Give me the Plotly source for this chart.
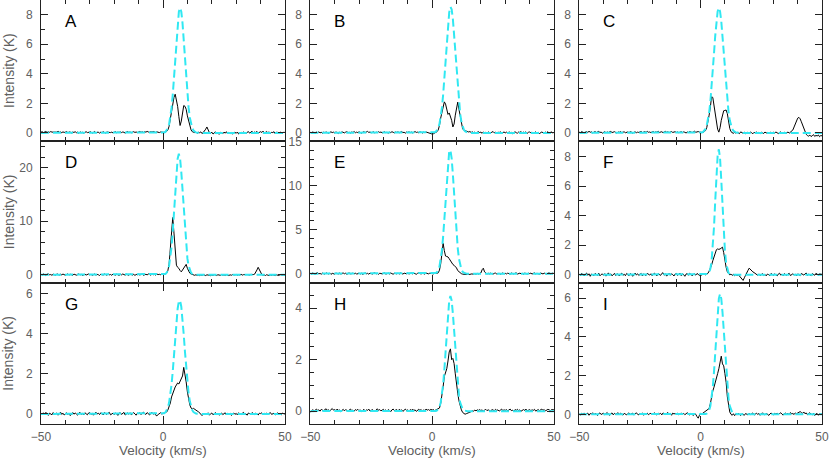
import numpy as np
import plotly.graph_objects as go

# channel grid (km/s) and grid of the fitted profiles
VELOCITY = np.round(np.arange(-50, 50.001, 0.5), 2)
FIT_VELOCITY = [-50.0] + list(np.round(np.arange(0, 16.001, 0.5), 2)) + [50.0]

LETTERS = ["A", "B", "C", "D", "E", "F", "G", "H", "I"]

A_SPEC = [.05,.08,.02,.06,.10,.03,.07,.04,.09,.05,.06,.02,.08,.05,.11,.04,.06,.01,.07,.03,
          .05,.09,.02,.04,.07,-.02,.06,.03,.08,.01,.05,-.03,.07,.02,.04,-.01,.06,.08,.02,.05,
          .03,.07,-.02,.05,.09,.01,.04,.06,-.03,.05,.02,.08,.03,-.01,.06,.04,.07,.02,.05,.00,
          .04,.08,.01,.05,.03,.07,.02,.06,.04,-.02,.05,.09,.03,.06,.01,.05,.08,.03,.06,.02,
          .05,.09,.04,.07,.03,.08,.05,.10,.06,.04,.08,.05,.09,.06,.03,.07,.05,.02,.06,.04,
          .05,.03,.08,.10,.20,.45,.95,1.55,2.05,2.40,2.62,2.20,1.80,1.10,.50,.80,1.45,1.85,1.80,1.60,
          1.15,.75,.40,.20,.08,.05,.02,.06,-.03,.04,.01,.07,-.05,.03,.12,.25,.40,.15,.02,-.04,
          .05,-.08,.02,.07,-.04,.03,-.10,.04,.01,-.06,.05,-.02,.08,-.07,.03,-.04,.06,-.09,.02,.04,
          -.03,.06,-.08,.01,.05,-.05,.07,.00,-.06,.04,.09,-.02,.05,.11,-.04,.07,.02,.10,-.01,.06,
          .08,.03,.12,-.02,.06,.09,.01,.07,-.05,.04,.02,.08,-.06,.05,.03,-.03,.06,.01,-.04,.05,
          .02]
B_SPEC = [.04,.01,.06,.03,-.02,.05,.02,.07,.00,.04,-.03,.05,.02,.06,.01,-.02,.04,.07,.02,.05,
          .00,.06,.03,-.04,.05,.01,.07,.03,.00,.05,.08,.02,.04,-.01,.06,.03,.09,.01,.05,.02,
          .07,.03,-.02,.04,.08,.02,.05,.10,.03,.06,.01,.04,.07,-.01,.05,.02,.08,.03,.06,.00,
          .04,.07,.01,.05,-.03,.06,.02,.08,.04,.00,.06,.03,.07,.01,.05,.09,.02,.04,-.02,.06,
          .03,.07,.02,.05,.00,.06,.09,.03,.05,.01,.07,.04,-.01,.05,.02,.06,.03,-.04,-.06,-.08,
          -.08,-.06,-.03,.02,.08,.20,.50,1.00,1.45,1.85,2.10,1.95,1.55,1.25,1.35,1.15,.85,.40,.60,1.20,
          1.75,2.08,1.60,1.10,.55,.28,.18,.15,.15,.10,.06,.09,.03,.07,.01,.05,-.02,.04,.08,.02,
          .05,-.03,.06,.01,.04,-.05,.07,.02,-.02,.05,.09,.00,.04,-.04,.06,.01,.08,-.02,.03,.06,
          .00,.05,-.03,.07,.02,.04,-.06,.03,.08,.01,-.02,.06,.03,.09,-.01,.05,.02,.07,-.03,.04,
          .06,.01,.05,-.04,.03,.07,.00,.04,-.05,.02,.06,.01,-.03,.05,.02,.08,-.02,.03,.06,.00,
          .03]
C_SPEC = [.06,.02,.09,.04,-.01,.05,.08,.03,.11,.04,.07,.00,.05,.09,.02,.06,.10,.03,.05,-.02,
          .04,.08,.01,.06,.03,.07,.10,.02,.05,.08,.03,-.01,.06,.04,.09,.02,.05,.07,.01,.04,
          .06,.02,.08,.05,-.02,.04,.07,.01,.05,.03,.06,.09,.02,.05,.08,.03,.10,.04,.06,.02,
          .05,.09,.02,.07,.04,.11,.03,.06,.08,.01,.05,.10,.04,.07,.02,.06,.09,.03,.05,.08,
          .03,.06,.01,.05,.08,.02,.07,.04,-.01,.06,.03,.09,.05,.02,.07,.11,.04,.06,.09,.05,
          .04,.08,.02,.10,.15,.35,.70,1.20,1.75,2.45,2.40,1.85,1.35,.80,.25,.05,.35,.85,1.25,1.50,
          1.52,1.55,1.30,.75,.30,.08,.02,-.04,.06,-.02,.05,.01,-.05,.07,.00,-.03,.05,-.06,.02,.04,
          -.03,.05,.01,-.06,.04,.00,.07,-.02,.03,-.05,.05,.02,-.04,.06,-.01,.03,-.07,.02,.05,-.03,
          .04,-.02,.06,.01,-.05,.03,.07,-.03,.02,.05,-.04,.01,.06,-.02,.04,.08,.20,.40,.65,.85,
          1.00,1.05,.95,.75,.50,.25,.05,-.10,-.18,-.22,-.15,-.25,-.19,-.12,-.24,-.17,-.21,-.14,-.26,-.18,
          -.20]
D_SPEC = [.10,-.05,.15,.02,-.12,.08,.20,-.03,.05,-.10,.12,.00,-.08,.18,.04,-.06,.10,-.02,.14,.03,
          -.09,.06,.16,-.04,.09,.01,-.11,.13,.05,-.07,.02,.17,-.03,.08,-.12,.06,.11,-.05,.03,.15,
          -.02,.09,-.10,.04,.14,-.06,.07,.01,-.13,.10,.05,-.04,.16,.02,-.08,.11,-.01,.06,-.09,.13,
          .03,-.07,.12,.05,-.11,.08,-.02,.15,.00,-.06,.10,.04,-.09,.13,.02,-.05,.09,-.12,.07,.01,
          .11,-.04,.06,.14,-.08,.03,.10,-.02,.16,.05,-.07,.12,.01,.08,-.05,.15,.04,.09,.02,.12,
          .10,.05,.15,.30,.80,2.00,4.50,8.00,10.70,7.80,3.50,1.80,1.40,1.20,.80,.55,.90,1.30,1.70,1.95,
          1.20,.60,.30,.15,.05,-.05,-.10,.02,-.12,-.06,-.15,-.03,-.10,.04,-.08,-.14,.00,-.09,-.05,-.16,
          -.04,-.11,.03,-.07,-.13,.01,-.06,-.10,.05,-.08,-.02,-.12,.02,-.05,-.14,.00,-.09,.04,-.07,-.03,
          .06,-.08,.02,-.04,.09,-.06,.03,.07,-.02,.05,.01,-.05,.08,.03,.04,.10,.40,.90,1.40,.90,
          .30,.05,-.10,-.04,-.13,.02,-.08,-.15,-.03,-.11,.01,-.09,-.14,-.02,-.07,-.12,.03,-.06,-.10,-.04,
          -.08]
E_SPEC = [.05,-.04,.08,.01,-.07,.06,.10,-.02,.03,-.06,.07,.00,-.05,.09,.02,-.03,.06,-.08,.04,.01,
          -.05,.07,.02,-.03,.09,-.06,.04,.08,-.01,.05,-.07,.03,.10,-.04,.01,.06,-.02,.08,-.06,.03,
          .07,-.03,.05,-.08,.02,.09,-.01,.04,-.06,.07,.01,-.04,.06,.10,-.02,.03,-.07,.05,.02,-.03,
          .04,.08,-.05,.02,.06,-.03,.09,.00,-.06,.05,.03,-.02,.07,-.04,.08,.01,-.05,.06,.03,-.01,
          .06,-.04,.03,.08,-.02,.05,.00,-.07,.04,.09,.01,-.03,.06,.02,-.05,.07,.03,-.02,.05,.01,
          .03,-.02,.04,.01,.05,.10,.40,1.10,2.30,3.45,2.60,2.00,1.95,1.90,1.70,1.45,1.30,1.05,.95,.80,
          .65,.35,.20,.08,.00,-.05,-.08,-.06,-.10,-.04,-.07,-.09,-.03,-.08,-.05,.00,-.06,.03,-.04,.02,
          .08,.45,.62,.20,.02,-.04,.05,-.02,.06,.00,-.05,.04,.07,-.03,.02,.05,-.06,.03,.08,-.01,
          .04,-.03,.06,.01,-.05,.07,.02,-.02,.05,.09,-.04,.03,.06,-.01,.04,-.06,.07,.02,-.03,.05,
          .01,.06,-.04,.03,.08,-.02,.05,.00,-.05,.07,.03,-.03,.06,.02,-.04,.05,.09,-.01,.03,.06,
          .02]
F_SPEC = [.06,-.05,.10,.02,-.08,.04,.12,-.03,.07,-.10,.05,.01,-.06,.09,.03,-.04,.11,-.07,.02,.06,
          -.03,.08,-.09,.04,.13,-.02,.06,-.07,.01,.10,-.05,.07,.02,-.08,.05,.11,-.03,.04,-.06,.09,
          .02,-.06,.08,.03,-.10,.05,.12,-.01,.07,-.04,.03,.09,-.08,.06,.01,-.05,.10,.04,-.02,.07,
          -.06,.05,.11,.00,-.07,.08,.03,-.04,.09,.14,-.02,.06,-.09,.04,.10,-.03,.07,.01,-.08,.05,
          .09,-.04,.03,.12,-.06,.07,.01,-.10,.05,.08,-.03,.10,.02,-.07,.04,.06,-.02,.09,.03,-.05,
          .04,-.03,.06,.01,.00,.05,.10,.25,.40,.65,.95,1.25,1.50,1.70,1.75,1.72,1.75,1.80,1.87,1.50,
          .95,.50,.20,.10,.00,.05,-.04,.03,-.06,.02,-.05,.01,-.08,-.15,-.30,-.38,-.20,.00,.15,.30,
          .45,.35,.30,.20,.15,.10,.05,-.03,.06,-.05,.02,.08,-.04,.03,-.07,.05,.01,-.06,.09,.00,
          -.04,.07,.02,-.08,.05,.11,-.02,.04,-.06,.08,.01,-.03,.06,.10,-.05,.03,.07,-.01,.04,-.07,
          .06,.02,-.05,.09,.03,-.02,.07,.12,-.04,.05,.01,-.06,.08,.03,-.03,.10,.04,-.01,.06,.02,
          .03]
G_SPEC = [.03,-.05,.06,-.02,.08,.00,-.07,.04,.01,-.04,.07,-.03,.02,.05,-.06,.03,.09,-.02,.04,-.05,
          .01,.06,-.03,.04,-.08,.02,.07,-.01,.05,.00,-.06,.04,.08,-.02,.03,-.05,.06,.01,-.04,.05,
          .07,-.02,.03,-.06,.05,.09,.00,.04,-.03,.06,.02,-.05,.07,.01,-.02,.05,.08,-.04,.02,.04,
          -.03,.05,.01,-.07,.04,.06,-.02,.03,.08,-.05,.02,.05,-.01,.06,-.04,.03,.07,.00,-.06,.04,
          .02,.06,-.03,.05,.09,.01,-.02,.07,.03,-.05,.04,.08,-.01,.05,-.06,-.09,-.03,.02,.06,.00,
          .03,.06,.05,.10,.20,.35,.55,.85,1.05,1.20,1.35,1.45,1.55,1.50,1.62,1.70,1.90,2.33,2.00,1.60,
          1.10,.70,.45,.30,.25,.28,.22,.20,.15,.12,.05,-.02,-.08,.02,-.05,.04,-.03,.06,-.06,.01,
          .05,-.04,.03,.07,-.02,.04,-.06,.01,.05,-.03,.02,.06,-.05,.03,-.01,.04,-.07,.02,.05,-.02,
          .03,-.05,.06,.00,-.03,.04,.08,-.02,.01,-.06,.05,.02,-.04,.07,.00,-.03,.05,.01,-.05,.04,
          .02,.06,-.03,.04,-.01,.05,-.04,.03,.07,-.02,.01,.04,-.05,.03,.06,-.02,.02,-.04,.05,.01,
          .00]
H_SPEC = [-.05,.02,.06,-.01,.04,.08,.03,.05,.00,.07,.04,.02,.06,.09,.03,.05,.01,.07,.10,.04,
          .06,.02,.08,.03,.05,-.02,.04,.07,.01,.06,.03,-.01,.05,.08,.02,.04,.00,.06,.03,.07,
          .02,.05,-.02,.04,.07,.01,.05,.03,.08,.00,.04,.06,.02,-.01,.05,.09,.03,.06,.01,.04,
          .07,.02,.05,.00,.06,.03,-.02,.05,.08,.02,.04,.06,.01,.07,.03,.05,-.01,.04,.08,.02,
          .05,.01,.06,.03,.08,.02,.05,-.01,.04,.07,.03,.06,.00,.05,.02,.08,.04,.06,.03,.07,
          .04,.06,.02,.05,.05,.08,.12,.30,.55,.95,1.35,1.50,1.65,1.95,2.30,2.42,2.00,2.05,1.85,1.45,
          1.00,.70,.40,.18,.05,-.05,-.08,-.12,-.10,-.08,-.05,-.06,-.02,.02,.00,.04,.01,.05,.03,.06,
          .02,.05,.00,.04,.07,.02,.05,.03,-.01,.06,.04,.02,.07,.03,.05,.00,.04,.08,.02,.05,
          .03,.06,.01,.05,.08,.02,.04,-.01,.06,.03,.07,.02,.05,.00,.04,.06,.03,.08,.01,.05,
          .06,.02,.05,.03,.07,.00,.04,.06,.02,.05,.08,.03,.06,.01,.04,.07,.05,.02,.06,.04,
          .05]
I_SPEC = [.02,-.04,.05,.00,.07,-.02,.03,.06,-.05,.04,.01,.08,-.03,.05,.02,-.06,.04,.07,-.01,.03,
          .06,-.02,.04,.09,.01,-.05,.03,.07,-.03,.05,.00,.04,.08,-.02,.06,.01,-.04,.05,.03,-.03,
          .04,.07,-.01,.03,.06,-.04,.02,.08,.00,-.03,.05,.02,.07,-.05,.04,.01,.06,-.02,.03,.05,
          -.02,.04,.08,.01,-.04,.06,.02,.05,-.03,.07,.03,-.01,.05,.09,.00,.04,-.05,.06,.02,.04,
          .01,.06,-.03,.04,.07,.00,.05,-.02,.03,.08,.02,-.04,.05,.01,-.06,.03,.00,-.12,-.20,-.05,
          .05,.02,.06,.10,.15,.20,.25,.30,.55,.95,1.20,1.40,1.60,1.85,2.10,2.35,2.75,3.00,2.60,2.50,
          2.10,1.65,.90,.40,.12,.00,-.05,.03,-.07,.02,-.04,.05,-.02,-.06,.03,.00,-.05,.04,.01,-.03,
          .05,-.02,.03,.07,-.04,.02,.06,-.01,.04,-.05,.03,.08,.00,-.03,.05,.02,-.06,.04,.07,.01,
          -.03,.05,.02,.06,-.02,.04,.08,.01,-.04,.03,.06,.00,.05,-.03,.09,.02,.04,-.01,.07,.03,
          .06,.10,.14,.09,.05,.12,.03,.07,-.02,.04,.08,.01,-.03,.05,-.06,.02,.04,-.05,.03,.00,
          .02]

# fitted profiles (K) sampled at 0 .. 16 km/s
A_FIT = [.01,.03,.07,.16,.32,.59,1.03,1.69,2.60,3.72,5.01,6.30,7.43,8.20,8.47,8.20,7.43,6.30,5.01,3.72,2.60,1.69,1.03,.59,.32,.16,.07,.03,.01,0,0,0,0]
B_FIT = [.01,.02,.04,.08,.17,.33,.61,1.04,1.69,2.57,3.67,4.92,6.20,7.34,8.16,8.53,8.37,7.72,6.68,5.44,4.16,2.99,2.01,1.28,.76,.42,.22,.11,.05,.02,.01,0,0]
C_FIT = [.01,.03,.07,.14,.27,.50,.85,1.38,2.11,3.05,4.17,5.38,6.56,7.56,8.23,8.47,8.23,7.56,6.56,5.38,4.17,3.05,2.11,1.38,.85,.50,.27,.14,.07,.03,.01,0,0]
D_FIT = [.02,.06,.16,.38,.83,1.66,3.06,5.20,8.15,11.76,15.65,19.19,21.70,22.60,21.70,19.19,15.65,11.76,8.15,5.20,3.06,1.66,.83,.38,.16,.06,.02,0,0,0,0,0,0]
E_FIT = [0,.01,.03,.08,.18,.40,.81,1.52,2.63,4.20,6.23,8.55,10.86,12.77,13.90,14.01,13.07,11.29,9.03,6.68,4.58,2.90,1.70,.93,.47,.22,.09,.04,.01,0,0,0,0]
F_FIT = [0,0,0,0,0,.02,.05,.16,.41,.92,1.84,3.22,4.97,6.74,8.06,8.49,7.86,6.41,4.60,2.91,1.62,.79,.34,.13,.04,.01,0,0,0,0,0,0,0]
G_FIT = [.02,.04,.08,.17,.32,.57,.94,1.46,2.14,2.94,3.80,4.61,5.26,5.64,5.67,5.36,4.76,3.97,3.11,2.29,1.58,1.03,.63,.36,.19,.10,.05,.02,.01,0,0,0,0]
H_FIT = [0,0,0,.01,.03,.08,.16,.33,.61,1.03,1.61,2.33,3.10,3.80,4.30,4.48,4.30,3.80,3.10,2.33,1.61,1.03,.61,.33,.16,.08,.03,.01,0,0,0,0,0]
I_FIT = [0,0,0,.01,.02,.04,.10,.21,.43,.81,1.39,2.19,3.19,4.27,5.27,5.97,6.22,5.97,5.27,4.27,3.19,2.19,1.39,.81,.43,.21,.10,.04,.02,.01,0,0,0]

SPECTRA = [A_SPEC, B_SPEC, C_SPEC, D_SPEC, E_SPEC, F_SPEC, G_SPEC, H_SPEC, I_SPEC]
FITS = [A_FIT, B_FIT, C_FIT, D_FIT, E_FIT, F_FIT, G_FIT, H_FIT, I_FIT]
Y_RANGES = [[-0.55, 9.0], [-0.55, 9.0], [-0.55, 9.0],
            [-1.44, 25.0], [-1.0, 15.05], [-0.52, 9.05],
            [-0.5, 6.57], [-0.5, 5.0], [-0.5, 6.8]]
Y_MAJOR = [2, 2, 2, 10, 5, 2, 2, 2, 2]
Y_MINOR = [1, 1, 1, 2, 1, 1, 0.5, 0.5, 0.5]

for s in SPECTRA:
    assert len(s) == len(VELOCITY), len(s)
for f in FITS:
    assert len(f) == len(FIT_VELOCITY) - 2, len(f)

W, H = 830, 459
COL_PX = [(41, 285), (310.3, 554), (579.3, 822)]
ROW_PX = [(0, 141), (141, 282.5), (282.5, 424)]

FONT = "Liberation Sans, Arial, Helvetica, sans-serif"
GRAY = "#606060"
AXC = "#222222"
CYAN = "#30e8f2"

fig = go.Figure()
layout = dict(template="none", width=W, height=H, margin=dict(l=0, r=0, t=0, b=0, pad=0),
              paper_bgcolor="white", plot_bgcolor="white", showlegend=False,
              font=dict(family=FONT, color=GRAY))
annotations = []

for i in range(9):
    r, c = divmod(i, 3)
    n = i + 1
    xs = "" if n == 1 else str(n)
    x0, x1 = COL_PX[c]
    t0, t1 = ROW_PX[r]
    fig.add_trace(go.Scatter(x=VELOCITY, y=SPECTRA[i], mode="lines",
                             line=dict(color="black", width=1),
                             xaxis="x" + xs, yaxis="y" + xs, hoverinfo="skip"))
    fig.add_trace(go.Scatter(x=FIT_VELOCITY, y=[0] + FITS[i] + [0], mode="lines",
                             line=dict(color=CYAN, width=2, dash="8px,4px"),
                             xaxis="x" + xs, yaxis="y" + xs, hoverinfo="skip"))
    layout["xaxis" + xs] = dict(
        domain=[x0 / W, x1 / W], anchor="y" + xs, range=[-50, 50], automargin=False,
        tickmode="linear", tick0=-50, dtick=50,
        ticks="inside", ticklen=8, tickwidth=1, tickcolor=AXC,
        showline=True, linecolor=AXC, linewidth=1, mirror="allticks",
        showgrid=False, zeroline=False, showticklabels=(r == 2),
        ticklabelstandoff=2,
        tickfont=dict(family=FONT, size=12, color=GRAY),
        minor=dict(tickmode="linear", tick0=-50, dtick=10, ticks="inside",
                   ticklen=4, tickwidth=1, tickcolor=AXC, showgrid=False))
    layout["yaxis" + xs] = dict(
        domain=[1 - t1 / H, 1 - t0 / H], anchor="x" + xs, range=Y_RANGES[i], automargin=False,
        tickmode="linear", tick0=0, dtick=Y_MAJOR[i],
        ticks="inside", ticklen=7, tickwidth=1, tickcolor=AXC,
        showline=True, linecolor=AXC, linewidth=1, mirror="allticks",
        showgrid=False, zeroline=False, ticklabelstandoff=5,
        tickfont=dict(family=FONT, size=12, color=GRAY),
        minor=dict(tickmode="linear", tick0=0, dtick=Y_MINOR[i], ticks="inside",
                   ticklen=4, tickwidth=1, tickcolor=AXC, showgrid=False))
    annotations.append(dict(text=LETTERS[i], xref="x" + xs + " domain", yref="y" + xs + " domain",
                            x=0.09, y=0.848, xanchor="left", yanchor="middle", showarrow=False,
                            font=dict(family=FONT, size=17, color="black")))
    if c == 0:
        annotations.append(dict(text="Intensity (K)", xref="paper", yref="paper",
                                x=8.5 / W, y=1 - (t0 + t1) / 2 / H, textangle=-90,
                                xanchor="center", yanchor="middle", showarrow=False,
                                font=dict(family=FONT, size=14, color=GRAY)))
    if r == 2:
        annotations.append(dict(text="Velocity (km/s)", xref="paper", yref="paper",
                                x=(x0 + x1) / 2 / W, y=0.0, borderpad=0,
                                xanchor="center", yanchor="bottom", showarrow=False,
                                font=dict(family=FONT, size=13.5, color=GRAY)))

layout["annotations"] = annotations
fig.update_layout(**layout)
fig.write_html("out.html", config={"displayModeBar": False},
               post_script="document.body.style.margin='0px';document.body.style.overflow='hidden';")
